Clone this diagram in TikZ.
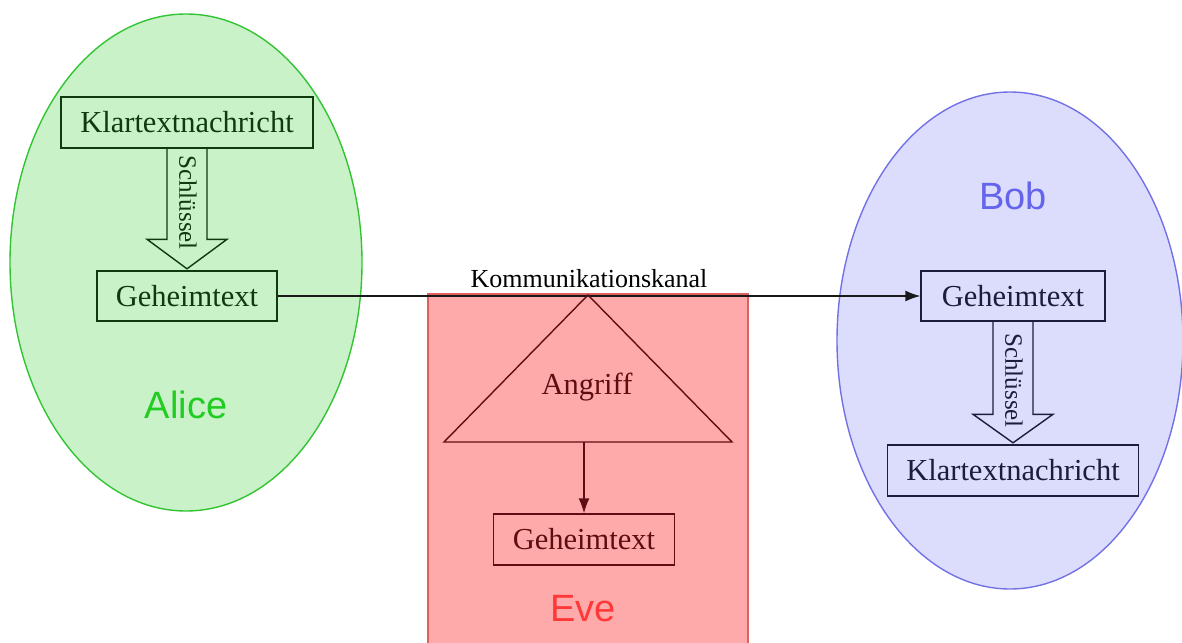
\documentclass[tikz,border=0pt]{standalone}
\usepackage{fontspec}
\setmainfont{Liberation Serif}
\newfontfamily\lsans{Liberation Sans}
\usetikzlibrary{shapes.geometric,arrows.meta,calc}
\definecolor{alicefill}{HTML}{C9F2C9}
\definecolor{alicedraw}{HTML}{33C433}
\definecolor{alicetext}{HTML}{22CC22}
\definecolor{aliceink}{HTML}{0F3A0F}
\definecolor{bobfill}{HTML}{DCDCFC}
\definecolor{bobdraw}{HTML}{7272E6}
\definecolor{bobtext}{HTML}{6464EC}
\definecolor{bobink}{HTML}{1C1C3C}
\definecolor{evefill}{HTML}{FFAAAA}
\definecolor{evedraw}{HTML}{E06060}
\definecolor{evetext}{HTML}{FF3838}
\definecolor{eveink}{HTML}{5E0E12}
\tikzset{
  box/.style={draw, line width=1.4pt, inner sep=0pt, font=\fontsize{30.5}{36}\selectfont},
  blockarrow/.style={draw, line width=1.4pt, line join=miter},
  keylabel/.style={rotate=-90, inner sep=0pt, font=\fontsize{25}{30}\selectfont},
  party/.style={inner sep=0pt, font=\lsans\fontsize{38}{44}\selectfont},
  zone/.style={ellipse, line width=1.4pt, inner sep=0pt}
}
\begin{document}
\begin{tikzpicture}[x=1pt,y=-1pt]
\useasboundingbox (0,0) rectangle (1182,642);
% zones
\node[zone, draw=alicedraw, fill=alicefill, minimum width=352pt, minimum height=497pt] (alice) at (186,262.5) {};
\node[zone, draw=bobdraw, fill=bobfill, minimum width=346pt, minimum height=497pt] (bob) at (1010,340.5) {};
\filldraw[draw=evedraw, fill=evefill, line width=1.4pt] (428,294) rectangle (748,680);
% party labels
\node[party, text=alicetext] (alicelbl) at (186,405) {Alice};
\node[party, text=bobtext] (boblbl) at (1013,196) {Bob};
\node[party, text=evetext] (evelbl) at (583,609) {Eve};
% Alice
\node[box, draw=aliceink, text=aliceink, minimum width=252pt, minimum height=51pt] (ak) at (187,122.5) {Klartextnachricht};
\node[box, draw=aliceink, text=aliceink, minimum width=180pt, minimum height=50pt] (ag) at (187,296) {Geheimtext};
\draw[blockarrow, draw=aliceink] ($(ak.south)+(-20,0)$) -- ($(ag.north)+(-20,-31)$) -- ($(ag.north)+(-40,-31)$) -- ($(ag.north)+(0,-1.5)$) -- ($(ag.north)+(40,-31)$) -- ($(ag.north)+(20,-31)$) -- ($(ak.south)+(20,0)$);
\node[keylabel, text=aliceink] (akey) at ($(ak.south)+(1,54)$) {Schlüssel};
% Bob
\node[box, draw=bobink, text=bobink, minimum width=184pt, minimum height=50pt] (bg) at (1013,296) {Geheimtext};
\node[box, draw=bobink, text=bobink, minimum width=251pt, minimum height=51pt] (bk) at (1013,470.5) {Klartextnachricht};
\draw[blockarrow, draw=bobink] ($(bg.south)+(-20,0)$) -- ($(bk.north)+(-20,-30)$) -- ($(bk.north)+(-40,-30)$) -- ($(bk.north)+(0,-1.5)$) -- ($(bk.north)+(40,-30)$) -- ($(bk.north)+(20,-30)$) -- ($(bg.south)+(20,0)$);
\node[keylabel, text=bobink] (bkey) at ($(bg.south)+(1,59)$) {Schlüssel};
% channel
\draw[line width=1.4pt, draw=black!90, -{Latex[length=15pt,width=11pt]}] (ag.east) -- (bg.west);
\node[inner sep=0pt, font=\fontsize{26}{30}\selectfont] (kanal) at (589,279) {Kommunikationskanal};
% Eve
\coordinate (apex) at (588,295);
\coordinate (bl) at (444,442);
\coordinate (br) at (732,442);
\coordinate (bm) at (584,442);
\draw[line width=1.4pt, draw=eveink, line join=miter] (apex) -- (bl) -- (br) -- cycle;
\node[inner sep=0pt, text=eveink, font=\fontsize{30.5}{36}\selectfont] (angriff) at (587,387) {Angriff};
\node[box, draw=eveink, text=eveink, minimum width=181pt, minimum height=51pt] (eg) at (584,539.5) {Geheimtext};
\draw[line width=1.4pt, draw=eveink, -{Latex[length=15pt,width=11pt]}] (bm) -- (eg.north);
\end{tikzpicture}
\end{document}
